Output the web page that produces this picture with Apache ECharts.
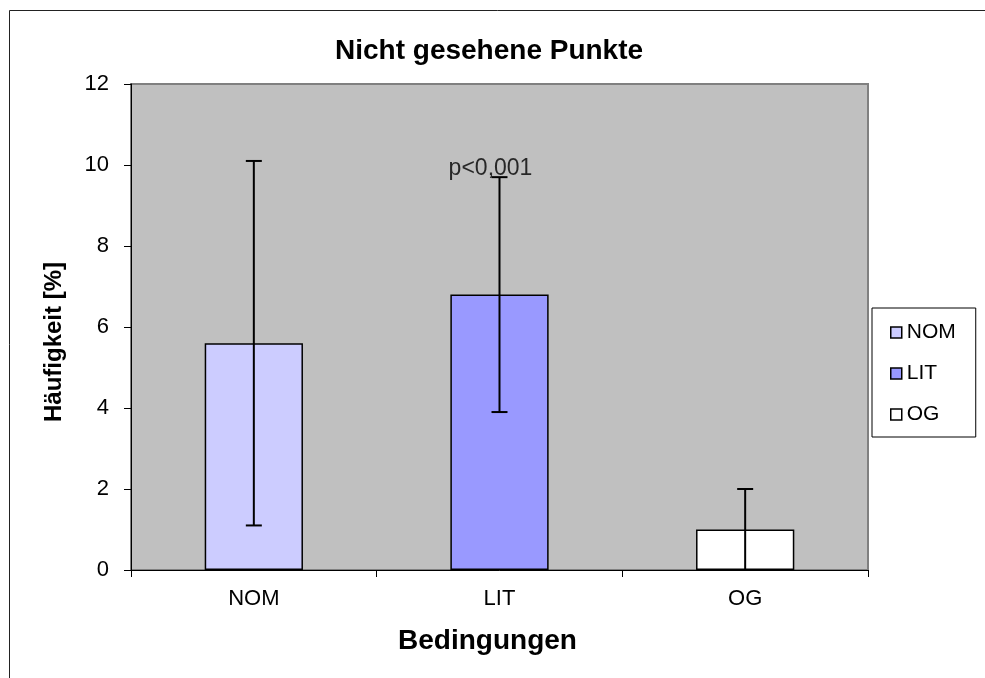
<!DOCTYPE html>
<html><head><meta charset="utf-8">
<script src="https://cdn.jsdelivr.net/npm/echarts@6/dist/echarts.min.js"></script>
<style>html,body{margin:0;padding:0;background:#fff}#c{width:985px;height:678px}</style>
</head><body><div id="c"></div>
<script>
const categories = ['NOM', 'LIT', 'OG'];
const means = [5.6, 6.8, 1.0];
const errLow = [1.1, 3.9, 0.0];
const errHigh = [10.1, 9.7, 2.0];
const barColors = ['#CCCCFF', '#9999FF', '#FFFFFF'];
const yTicks = [0, 2, 4, 6, 8, 10, 12];
const annotations = [{ cat: 'LIT', value: 9.9, text: 'p<0,001' }];

const font = 'Liberation Sans, Arial, sans-serif';
const chart = echarts.init(document.getElementById('c'), null, { renderer: 'canvas' });

const barSeries = categories.map((c, i) => ({
  name: c,
  type: 'bar',
  stack: 'all',
  barWidth: '40%',
  data: categories.map((_, j) => j === i ? means[i] : '-'),
  itemStyle: { color: barColors[i], borderColor: '#000', borderWidth: 1.5 },
  z: 2
}));

const option = {
  animation: false,
  backgroundColor: '#fff',
  textStyle: { fontFamily: font },
  graphic: [{
    type: 'rect', shape: { x: 9.5, y: 10.5, width: 1000, height: 700 },
    style: { fill: 'none', stroke: '#222', lineWidth: 1 }, z: -10
  }],
  title: {
    text: 'Nicht gesehene Punkte', left: 330, top: 32,
    textStyle: { fontFamily: font, fontSize: 28, fontWeight: 'bold', color: '#000' }
  },
  legend: {
    orient: 'vertical', left: 872, top: 308,
    itemWidth: 11, itemHeight: 11, itemGap: 20,
    padding: [14, 20, 12, 18],
    borderColor: '#000', borderWidth: 1, backgroundColor: '#fff',
    icon: 'rect',
    textStyle: { fontFamily: font, fontSize: 21, color: '#000' },
    itemStyle: { borderColor: '#000', borderWidth: 1.5 },
    data: categories
  },
  grid: {
    left: 131, top: 84, right: 117, bottom: 108,
    show: true, backgroundColor: '#C0C0C0', borderColor: '#808080', borderWidth: 2
  },
  xAxis: {
    type: 'category', data: categories,
    name: 'Bedingungen', nameLocation: 'middle', nameGap: 57,
    nameTextStyle: { fontFamily: font, fontSize: 28, fontWeight: 'bold', color: '#000', padding: [0, 24, 0, 0] },
    axisLine: { lineStyle: { color: '#000', width: 1 } },
    axisTick: { show: true, inside: false, length: 7, alignWithLabel: false, lineStyle: { color: '#000' } },
    axisLabel: { fontFamily: font, fontSize: 22, color: '#000', margin: 18 }
  },
  yAxis: {
    type: 'value', min: 0, max: 12, interval: 2,
    name: 'Häufigkeit [%]', nameLocation: 'middle', nameGap: 65,
    nameTextStyle: { fontFamily: font, fontSize: 24, fontWeight: 'bold', color: '#000', padding: [0, 30, 0, 0] },
    axisLine: { show: true, lineStyle: { color: '#000', width: 1 } },
    axisTick: { show: true, length: 7, lineStyle: { color: '#000' } },
    splitLine: { show: false },
    axisLabel: { fontFamily: font, fontSize: 22, color: '#000', margin: 22,
      formatter: v => yTicks.includes(v) ? String(v) : '' }
  },
  series: barSeries.concat([
    {
      type: 'custom', name: 'err', z: 5,
      data: categories.map((c, i) => [i, errLow[i], errHigh[i]]),
      renderItem: function (params, api) {
        const lo = api.coord([api.value(0), api.value(1)]);
        const hi = api.coord([api.value(0), api.value(2)]);
        const hw = 8;
        const st = { stroke: '#000', lineWidth: 2 };
        const ch = [
          { type: 'line', shape: { x1: hi[0], y1: hi[1], x2: lo[0], y2: lo[1] }, style: st },
          { type: 'line', shape: { x1: hi[0] - hw, y1: hi[1], x2: hi[0] + hw, y2: hi[1] }, style: st }
        ];
        if (api.value(1) > 0) {
          ch.push({ type: 'line', shape: { x1: lo[0] - hw, y1: lo[1], x2: lo[0] + hw, y2: lo[1] }, style: st });
        }
        return { type: 'group', children: ch };
      }
    },
    {
      type: 'scatter', name: 'annot', symbolSize: 0, z: 6,
      data: annotations.map(a => ({ value: [a.cat, a.value], label: { formatter: a.text } })),
      label: { show: true, position: 'inside', offset: [-9, 0], fontFamily: font, fontSize: 23, color: '#000' },
      silent: true
    }
  ])
};
chart.setOption(option);
</script></body></html>
